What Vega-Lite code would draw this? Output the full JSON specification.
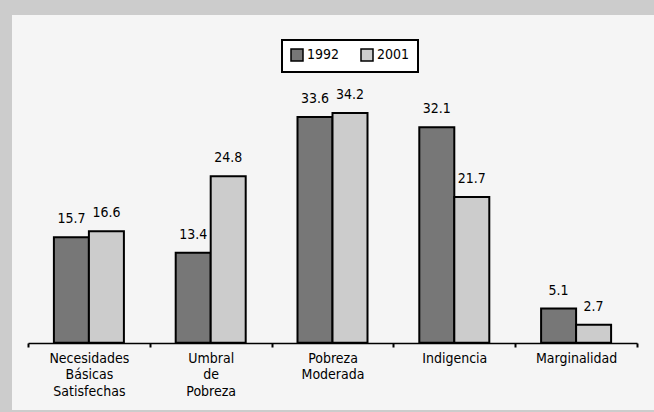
{
  "$schema": "https://vega.github.io/schema/vega-lite/v6.json",
  "width": 642,
  "height": 395,
  "autosize": {"type": "none"},
  "padding": {"left": 12, "top": 15, "right": 0, "bottom": 2},
  "background": "#cccccc",
  "config": {
    "view": {"fill": "#f5f5f5", "stroke": null},
    "font": "DejaVu Sans Condensed, Roboto, sans-serif",
    "legend": {"strokeWidth": 2}
  },
  "data": {
    "values": [
      {"cat": "Necesidades|Básicas|Satisfechas", "year": "1992", "value": 15.7},
      {"cat": "Necesidades|Básicas|Satisfechas", "year": "2001", "value": 16.6},
      {"cat": "Umbral|de|Pobreza", "year": "1992", "value": 13.4},
      {"cat": "Umbral|de|Pobreza", "year": "2001", "value": 24.8},
      {"cat": "Pobreza|Moderada", "year": "1992", "value": 33.6},
      {"cat": "Pobreza|Moderada", "year": "2001", "value": 34.2},
      {"cat": "Indigencia", "year": "1992", "value": 32.1},
      {"cat": "Indigencia", "year": "2001", "value": 21.7},
      {"cat": "Marginalidad", "year": "1992", "value": 5.1},
      {"cat": "Marginalidad", "year": "2001", "value": 2.7}
    ]
  },
  "encoding": {
    "x": {
      "field": "cat",
      "type": "nominal",
      "sort": null,
      "scale": {"range": [16, 625], "paddingInner": 0, "paddingOuter": 0},
      "axis": {
        "title": null,
        "labelAngle": 0,
        "offset": -67,
        "tickBand": "extent",
        "domainColor": "black",
        "domainWidth": 1.5,
        "tickColor": "black",
        "tickWidth": 2,
        "tickSize": 4,
        "labelFontSize": 14,
        "labelColor": "black",
        "labelPadding": 4,
        "labelLineHeight": 16.5,
        "labelOverlap": false,
        "labelLimit": 0,
        "labelExpr": "split(datum.label, '|')"
      }
    },
    "xOffset": {
      "field": "year",
      "type": "nominal",
      "scale": {"paddingInner": 0, "paddingOuter": 0.74}
    },
    "y": {
      "field": "value",
      "type": "quantitative",
      "scale": {"domain": [-10, 48.8], "nice": false, "zero": false},
      "axis": null
    }
  },
  "layer": [
    {
      "mark": {"type": "bar", "stroke": "black", "strokeWidth": 2},
      "encoding": {
        "y2": {"datum": 0},
        "color": {
          "field": "year",
          "type": "nominal",
          "scale": {"range": ["#777777", "#cccccc"]},
          "legend": {
            "orient": "none",
            "legendX": 270,
            "legendY": 25,
            "direction": "horizontal",
            "title": null,
            "symbolType": "square",
            "symbolStrokeColor": "black",
            "symbolStrokeWidth": 1.5,
            "symbolSize": 144,
            "labelFontSize": 14,
            "labelColor": "black",
            "labelOffset": 3,
            "columnPadding": 18,
            "strokeColor": "black",
            "fillColor": "white",
            "padding": 8
          }
        }
      }
    },
    {
      "mark": {"type": "text", "baseline": "alphabetic", "dy": -14, "fontSize": 14, "color": "black"},
      "encoding": {
        "text": {"field": "value", "type": "quantitative", "format": ".1f"}
      }
    }
  ]
}
